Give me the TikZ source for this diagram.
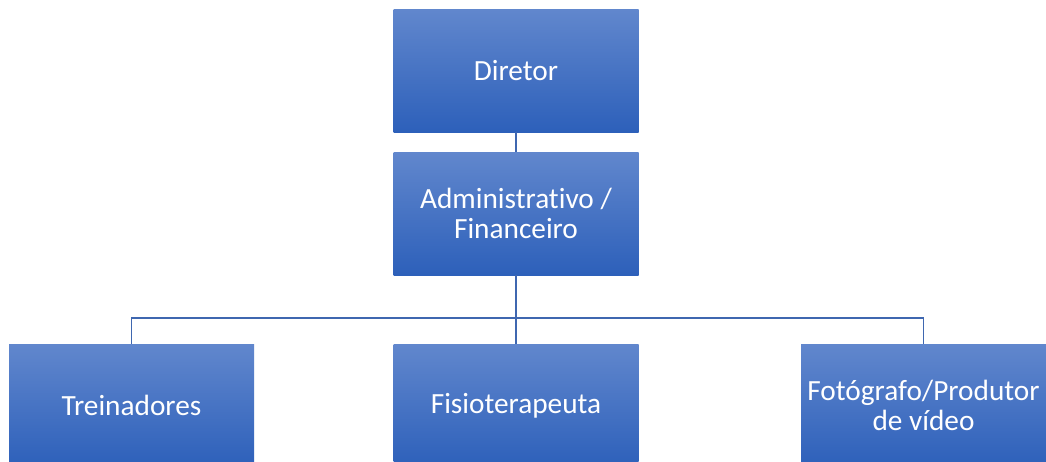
\documentclass[tikz,border=0pt]{standalone}
\usepackage{fontspec}
\setmainfont[Ligatures=NoCommon]{Carlito}
\definecolor{boxtop}{HTML}{6187CD}
\definecolor{boxbot}{HTML}{2D60BA}
\definecolor{linec}{HTML}{3F67B0}
\tikzset{
  orgbox/.style={rectangle, draw=none, top color=boxtop, bottom color=boxbot,
    minimum width=245pt, minimum height=123pt, inner sep=0pt, align=center,
    text=white, font=\fontsize{29.3}{30.6}\selectfont},
  conn/.style={draw=linec, line width=1.3pt}
}
\begin{document}
\begin{tikzpicture}[x=1pt,y=-1pt]
\useasboundingbox[fill=white] (0,0) rectangle (1046,461);
\node[orgbox] (dir) at (516,70.5) {Diretor};
\node[orgbox] (adm) at (516,213.5) {Administrativo /\\Financeiro};
\node[orgbox] (tre) at (131.5,405.5) {Treinadores};
\node[orgbox] (fis) at (516,405.5) {Fisioterapeuta};
\node[orgbox] (fot) at (923.5,405.5) {Fotógrafo/Produtor\\de vídeo};
\coordinate (bus) at (516,318);
\draw[conn] (dir.south) -- (adm.north);
\draw[conn] (adm.south) -- (bus);
\draw[conn] (bus) -| (tre.north);
\draw[conn] (bus) -| (fot.north);
\draw[conn] (bus) -- (fis.north);
\end{tikzpicture}
\end{document}
